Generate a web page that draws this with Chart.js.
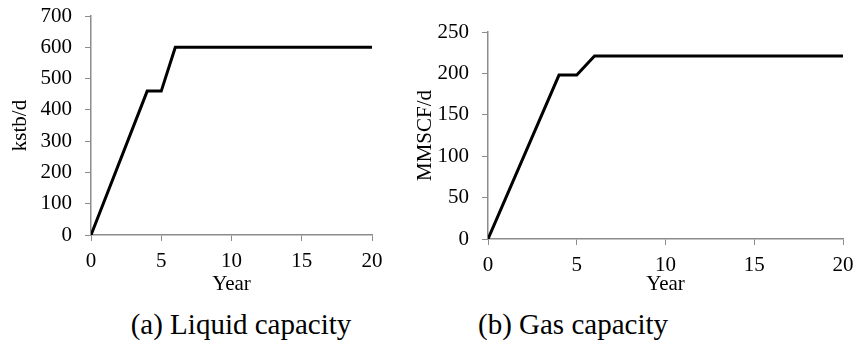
<!DOCTYPE html>
<html>
<head>
<meta charset="utf-8">
<script src="https://cdn.jsdelivr.net/npm/chart.js@4/dist/chart.umd.min.js"></script>
<style>
  html, body { margin: 0; padding: 0; background: #fff; }
  #wrap { position: relative; width: 855px; height: 347px; overflow: hidden; }
  canvas { position: absolute; top: 0; }
  .cap { position: absolute; font-family: "Liberation Serif", serif; font-size: 29px; color: #000; white-space: nowrap; line-height: 32px; transform: translateX(-50%); }
</style>
</head>
<body>
<div id="wrap">
  <canvas id="c1" width="400" height="300" style="left:0px;width:400px;height:300px"></canvas>
  <canvas id="c2" width="455" height="300" style="left:400px;width:455px;height:300px"></canvas>
  <div class="cap" style="left:241px; top:308px;">(a) Liquid capacity</div>
  <div class="cap" style="left:573px; top:308px;">(b) Gas capacity</div>
</div>
<script>
const years = [0, 4, 5, 6, 20];
const liquidCapacity = [0, 460, 460, 600, 600];
const gasCapacity = [0, 198, 198, 221, 221];
const xTicks = [0, 5, 10, 15, 20];
const liquidTicks = [0, 100, 200, 300, 400, 500, 600, 700];
const gasTicks = [0, 50, 100, 150, 200, 250];

const FONT = "'Liberation Serif', 'Times New Roman', serif";
const AXIS = '#8c8c8c';

function makeChart(id, values, yTicks, yTitle, cfg) {
  const pts = years.map((x, i) => ({ x: x, y: values[i] }));
  return new Chart(document.getElementById(id), {
    type: 'line',
    data: { datasets: [{ data: pts, borderColor: '#000', borderWidth: 3, pointRadius: 0, tension: 0, fill: false, borderJoinStyle: 'miter' }] },
    options: {
      responsive: false,
      animation: false,
      devicePixelRatio: 1,
      plugins: { legend: { display: false }, tooltip: { enabled: false } },
      layout: { padding: { top: cfg.top, right: cfg.right, left: 0, bottom: 0 } },
      scales: {
        x: {
          type: 'linear', min: 0, max: 20,
          afterBuildTicks: s => { s.ticks = xTicks.map(v => ({ value: v })); },
          afterFit: s => { s.height = cfg.xh; s.paddingLeft = 0; s.paddingRight = 0; },
          grid: { drawOnChartArea: false, drawTicks: true, tickLength: 6, color: AXIS, tickColor: AXIS },
          border: { display: true, color: AXIS, width: 1.5 },
          ticks: { color: '#000', font: { family: FONT, size: 21 }, padding: 8, maxRotation: 0 },
          title: { display: true, text: 'Year', color: '#000', font: { family: FONT, size: 21 }, padding: { top: 0, bottom: 3 } }
        },
        y: {
          type: 'linear', min: 0, max: yTicks[yTicks.length - 1],
          afterBuildTicks: s => { s.ticks = yTicks.map(v => ({ value: v })); },
          afterFit: s => { s.width = cfg.yw; s.paddingTop = 0; s.paddingBottom = 0; },
          grid: { drawOnChartArea: false, drawTicks: true, tickLength: 6, color: AXIS, tickColor: AXIS },
          border: { display: true, color: AXIS, width: 1.5 },
          ticks: { color: '#000', font: { family: FONT, size: 21 }, padding: 13 },
          title: { display: true, text: yTitle, color: '#000', font: { family: FONT, size: 21 }, padding: { top: cfg.tp, bottom: cfg.tp } }
        }
      }
    }
  });
}

makeChart('c1', liquidCapacity, liquidTicks, 'kstb/d', { top: 16, right: 28, xh: 65, yw: 91, tp: 8 });
makeChart('c2', gasCapacity, gasTicks, 'MMSCF/d', { top: 32, right: 12, xh: 61, yw: 88, tp: 13 });
</script>
</body>
</html>
